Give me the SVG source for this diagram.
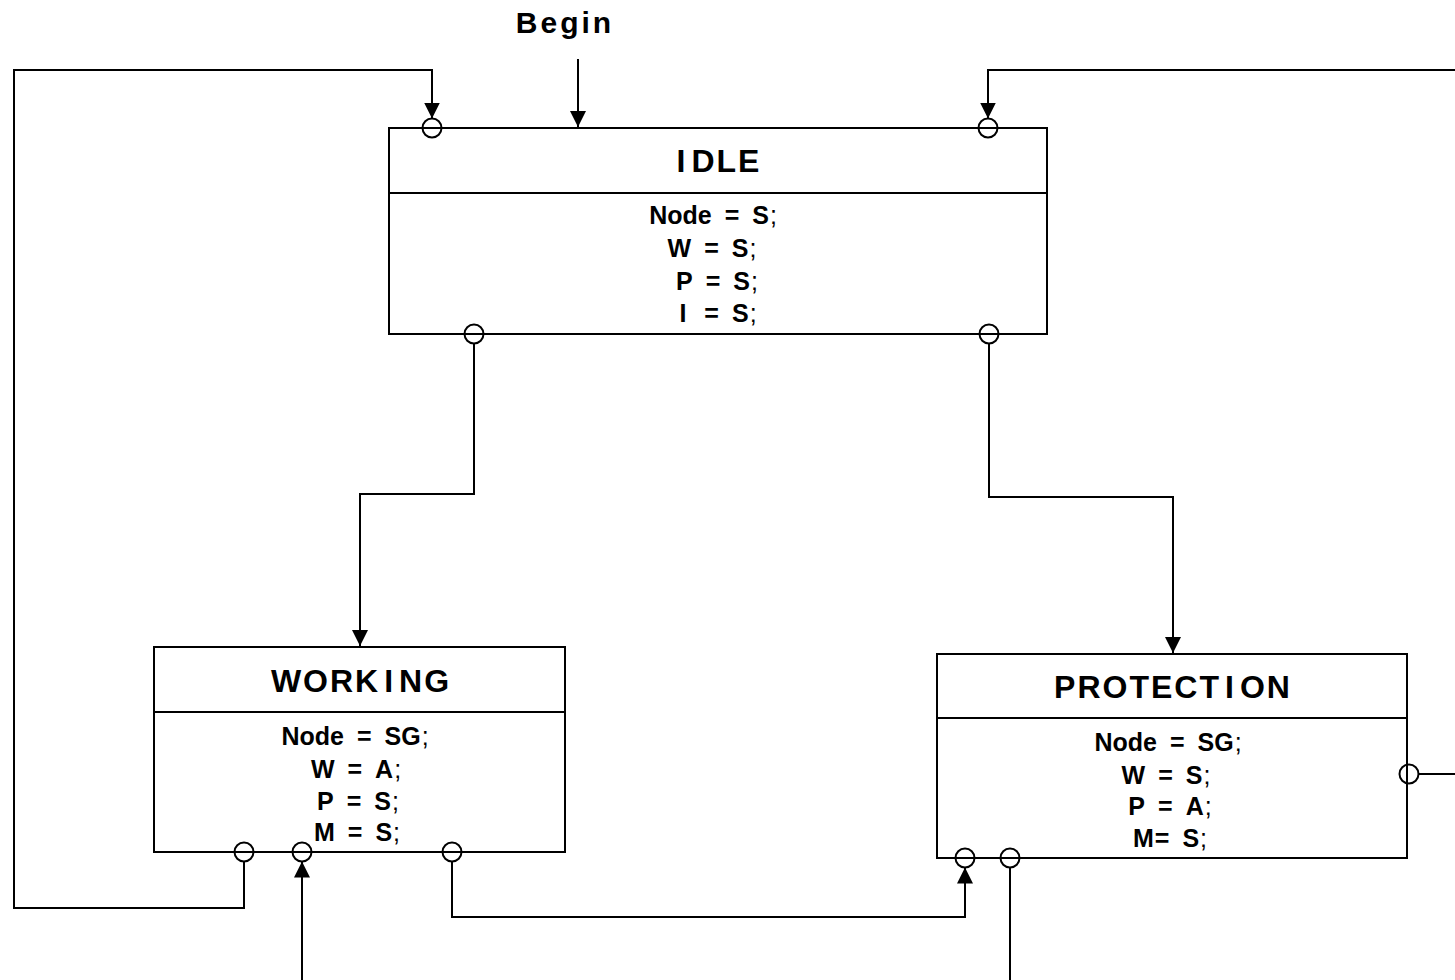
<svg xmlns="http://www.w3.org/2000/svg" width="1455" height="980" viewBox="0 0 1455 980">
<defs>
<style>
.box{fill:#fff;stroke:#000;stroke-width:2}
.div{stroke:#000;stroke-width:2}
.conn{fill:none;stroke:#000;stroke-width:2}
.port{fill:none;stroke:#000;stroke-width:2}
.t{font-family:"Liberation Sans",Arial,sans-serif;font-weight:bold;font-size:32px;letter-spacing:2px;text-anchor:middle;fill:#000}
.b{font-family:"Liberation Sans",Arial,sans-serif;font-weight:bold;font-size:25px;text-anchor:middle;fill:#000}
.s{font-weight:normal}
</style>
<marker id="arr" markerUnits="userSpaceOnUse" markerWidth="17" markerHeight="17" refX="16" refY="8" orient="auto">
<path d="M0,0 L16,8 L0,16 Z" fill="#000"/>
</marker>
</defs>
<rect width="1455" height="980" fill="#fff"/>
<text class="t" x="565" y="33" style="font-size:30px;letter-spacing:3px">Begin</text>
<g id="connectors">
<path class="conn" d="M578,59 V127" marker-end="url(#arr)"/>
<path class="conn" d="M244,861.5 V908 H14 V70 H432 V118.5" marker-end="url(#arr)"/>
<path class="conn" d="M1457,70 H988 V118.5" marker-end="url(#arr)"/>
<path class="conn" d="M1418.5,774 H1457"/>
<path class="conn" d="M474,343.5 V494 H360 V646" marker-end="url(#arr)"/>
<path class="conn" d="M989,343.5 V497 H1173 V653" marker-end="url(#arr)"/>
<path class="conn" d="M452,861.5 V917 H965 V867.5" marker-end="url(#arr)"/>
<path class="conn" d="M302,981 V861.5" marker-end="url(#arr)"/>
<path class="conn" d="M1010,867.5 V981"/>
</g>
<g id="idle">
<rect class="box" x="389" y="128" width="658" height="206"/>
<line class="div" x1="389" y1="193" x2="1047" y2="193"/>
<text class="t" x="719" y="172">I<tspan dx="4">DLE</tspan></text>
<text class="b" x="713" y="224">Node<tspan dx="13">=</tspan><tspan dx="13">S</tspan><tspan class="s" dx="1">;</tspan></text>
<text class="b" x="712" y="257">W<tspan dx="13">=</tspan><tspan dx="13">S</tspan><tspan class="s" dx="1">;</tspan></text>
<text class="b" x="717" y="290">P<tspan dx="13">=</tspan><tspan dx="13">S</tspan><tspan class="s" dx="1">;</tspan></text>
<text class="b" x="718" y="322">I<tspan dx="18">=</tspan><tspan dx="13">S</tspan><tspan class="s" dx="1">;</tspan></text>
<circle class="port" cx="432" cy="128" r="9.5"/>
<circle class="port" cx="988" cy="128" r="9.5"/>
<circle class="port" cx="474" cy="334" r="9.5"/>
<circle class="port" cx="989" cy="334" r="9.5"/>
</g>
<g id="working">
<rect class="box" x="154" y="647" width="411" height="205"/>
<line class="div" x1="154" y1="712" x2="565" y2="712"/>
<text class="t" x="361" y="692">WORK<tspan dx="4">I</tspan><tspan dx="4">NG</tspan></text>
<text class="b" x="355" y="745">Node<tspan dx="13">=</tspan><tspan dx="13">SG</tspan><tspan class="s" dx="1">;</tspan></text>
<text class="b" x="356" y="778">W<tspan dx="13">=</tspan><tspan dx="13">A</tspan><tspan class="s" dx="1">;</tspan></text>
<text class="b" x="358" y="810">P<tspan dx="13">=</tspan><tspan dx="13">S</tspan><tspan class="s" dx="1">;</tspan></text>
<text class="b" x="357" y="841">M<tspan dx="13">=</tspan><tspan dx="13">S</tspan><tspan class="s" dx="1">;</tspan></text>
<circle class="port" cx="244" cy="852" r="9.5"/>
<circle class="port" cx="302" cy="852" r="9.5"/>
<circle class="port" cx="452" cy="852" r="9.5"/>
</g>
<g id="protection">
<rect class="box" x="937" y="654" width="470" height="204"/>
<line class="div" x1="937" y1="718" x2="1407" y2="718"/>
<text class="t" x="1173" y="698">PROTECT<tspan dx="4">I</tspan><tspan dx="4">ON</tspan></text>
<text class="b" x="1168" y="751">Node<tspan dx="13">=</tspan><tspan dx="13">SG</tspan><tspan class="s" dx="1">;</tspan></text>
<text class="b" x="1166" y="784">W<tspan dx="13">=</tspan><tspan dx="13">S</tspan><tspan class="s" dx="1">;</tspan></text>
<text class="b" x="1170" y="815">P<tspan dx="13">=</tspan><tspan dx="13">A</tspan><tspan class="s" dx="1">;</tspan></text>
<text class="b" x="1170" y="847">M<tspan dx="1">=</tspan><tspan dx="13">S</tspan><tspan class="s" dx="1">;</tspan></text>
<circle class="port" cx="965" cy="858" r="9.5"/>
<circle class="port" cx="1010" cy="858" r="9.5"/>
<circle class="port" cx="1409" cy="774" r="9.5"/>
</g>
</svg>
